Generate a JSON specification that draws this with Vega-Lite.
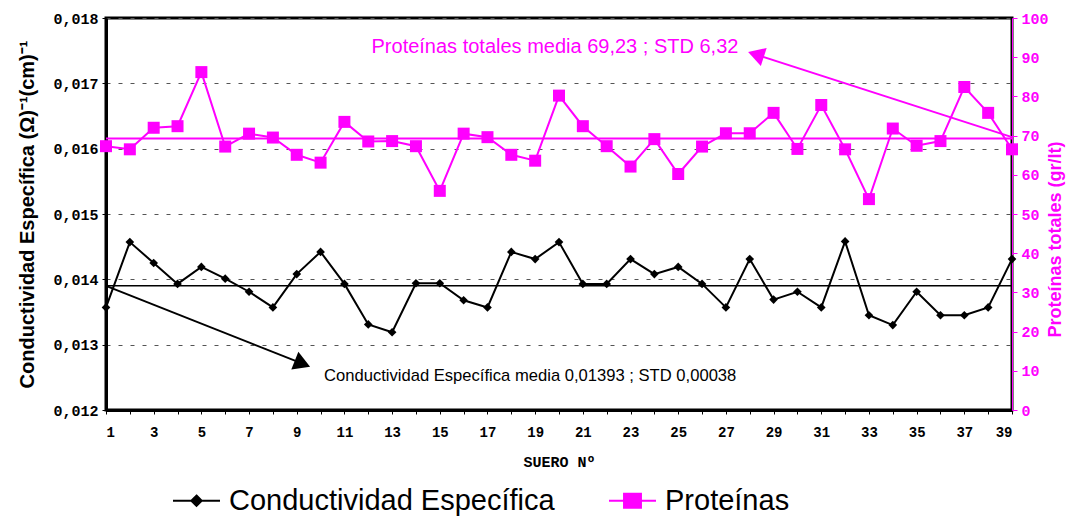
{
  "$schema": "https://vega.github.io/schema/vega-lite/v6.json",
  "width": 906,
  "height": 392,
  "autosize": {"type": "none"},
  "padding": {"left": 106, "top": 18, "right": 76, "bottom": 107},
  "background": "white",
  "config": {
    "font": "Liberation Sans",
    "view": {"stroke": "black", "strokeWidth": 3},
    "legend": {
      "orient": "none",
      "legendX": 66,
      "legendY": 458,
      "direction": "horizontal",
      "symbolSize": 2209,
      "symbolStrokeWidth": 2,
      "labelFontSize": 29,
      "labelFont": "Liberation Sans",
      "labelColor": "black",
      "labelOffset": 8,
      "columnPadding": 50,
      "labelLimit": 600
    }
  },
  "data": {
    "values": [
      {"n": 1, "c": 0.01357, "p": 67.3},
      {"n": 2, "c": 0.01457, "p": 66.5},
      {"n": 3, "c": 0.01425, "p": 72.0},
      {"n": 4, "c": 0.01393, "p": 72.4},
      {"n": 5, "c": 0.01419, "p": 86.2},
      {"n": 6, "c": 0.01401, "p": 67.2},
      {"n": 7, "c": 0.01381, "p": 70.5},
      {"n": 8, "c": 0.01357, "p": 69.5},
      {"n": 9, "c": 0.01408, "p": 65.1},
      {"n": 10, "c": 0.01442, "p": 63.1},
      {"n": 11, "c": 0.01393, "p": 73.5},
      {"n": 12, "c": 0.01331, "p": 68.5},
      {"n": 13, "c": 0.01319, "p": 68.6},
      {"n": 14, "c": 0.01394, "p": 67.3},
      {"n": 15, "c": 0.01394, "p": 55.9},
      {"n": 16, "c": 0.01368, "p": 70.5},
      {"n": 17, "c": 0.01357, "p": 69.6},
      {"n": 18, "c": 0.01442, "p": 65.1},
      {"n": 19, "c": 0.01431, "p": 63.6},
      {"n": 20, "c": 0.01457, "p": 80.2},
      {"n": 21, "c": 0.01393, "p": 72.4},
      {"n": 22, "c": 0.01393, "p": 67.3},
      {"n": 23, "c": 0.01431, "p": 62.1},
      {"n": 24, "c": 0.01408, "p": 69.1},
      {"n": 25, "c": 0.01419, "p": 60.2},
      {"n": 26, "c": 0.01393, "p": 67.2},
      {"n": 27, "c": 0.01357, "p": 70.6},
      {"n": 28, "c": 0.01431, "p": 70.6},
      {"n": 29, "c": 0.01369, "p": 75.8},
      {"n": 30, "c": 0.01381, "p": 66.6},
      {"n": 31, "c": 0.01357, "p": 77.8},
      {"n": 32, "c": 0.01458, "p": 66.5},
      {"n": 33, "c": 0.01345, "p": 53.8},
      {"n": 34, "c": 0.0133, "p": 71.8},
      {"n": 35, "c": 0.01381, "p": 67.4},
      {"n": 36, "c": 0.01345, "p": 68.6},
      {"n": 37, "c": 0.01345, "p": 82.4},
      {"n": 38, "c": 0.01357, "p": 75.8},
      {"n": 39, "c": 0.01431, "p": 66.5}
    ]
  },
  "encoding": {
    "x": {
      "field": "n",
      "type": "quantitative",
      "title": "SUERO Nº",
      "scale": {"domain": [1, 39], "nice": false, "zero": false},
      "axis": {
        "values": [1,2,3,4,5,6,7,8,9,10,11,12,13,14,15,16,17,18,19,20,21,22,23,24,25,26,27,28,29,30,31,32,33,34,35,36,37,38,39],
        "labelExpr": "datum.value % 2 == 1 ? datum.value : ''",
        "labelFont": "Liberation Mono",
        "labelFontWeight": "bold",
        "labelFontSize": 14,
        "labelColor": "black",
        "labelPadding": 11,
        "labelOverlap": false,
        "tickColor": "black",
        "tickSize": 4,
        "domainColor": "black",
        "domainWidth": 3,
        "grid": false,
        "titleFont": "Liberation Mono",
        "titleFontWeight": "bold",
        "titleFontSize": 15,
        "titleColor": "black",
        "titlePadding": 15
      }
    }
  },
  "layer": [
    {
      "encoding": {
        "y": {
          "field": "c",
          "type": "quantitative",
          "scale": {"domain": [0.012, 0.018], "nice": false, "zero": false},
          "axis": {
            "orient": "left",
            "values": [0.012, 0.013, 0.014, 0.015, 0.016, 0.017, 0.018],
            "labelExpr": "replace(format(datum.value, '.3f'), '.', ',')",
            "labelFont": "Liberation Mono",
            "labelFontWeight": "bold",
            "labelFontSize": 15,
            "labelColor": "black",
            "labelPadding": 4,
            "tickColor": "black",
            "tickSize": 4,
            "domainColor": "black",
            "domainWidth": 3,
            "grid": true,
            "gridDash": [4, 8],
            "gridColor": "#555555",
            "gridWidth": 1,
            "title": "Conductividad  Específica (Ω)⁻¹(cm)⁻¹",
            "titleFontSize": 20,
            "titleFontWeight": "bold",
            "titleColor": "black",
            "titlePadding": 15
          }
        }
      },
      "layer": [
        {
          "data": {"values": [{"n": 1, "n2": 39, "c": 0.0139}]},
          "mark": {"type": "rule", "color": "black", "strokeWidth": 1.5},
          "encoding": {"x2": {"field": "n2"}}
        },
        {
          "mark": {"type": "line", "color": "black", "strokeWidth": 2}
        },
        {
          "mark": {"type": "point", "shape": "diamond", "filled": true, "color": "black", "size": 75, "opacity": 1}
        },
        {
          "data": {"values": [{"n": 1, "c": 0.0139, "n2": 9.24, "c2": 0.012709}]},
          "mark": {"type": "rule", "color": "black", "strokeWidth": 2},
          "encoding": {"x2": {"field": "n2"}, "y2": {"field": "c2"}}
        },
        {
          "data": {"values": [{"n": 9.24, "c": 0.012709}]},
          "mark": {"type": "point", "shape": "triangle-up", "filled": true, "color": "black", "size": 360, "angle": 111.8, "opacity": 1}
        },
        {
          "data": {"values": [{"n": 18.79, "c": 0.01252, "t": "Conductividad  Específica media 0,01393 ; STD 0,00038"}]},
          "mark": {"type": "text", "color": "black", "fontSize": 16.6, "font": "Liberation Sans", "align": "center", "baseline": "middle"},
          "encoding": {"text": {"field": "t"}}
        }
      ]
    },
    {
      "encoding": {
        "y": {
          "field": "p",
          "type": "quantitative",
          "scale": {"domain": [0, 100], "nice": false, "zero": true},
          "axis": {
            "orient": "right",
            "values": [0, 10, 20, 30, 40, 50, 60, 70, 80, 90, 100],
            "labelFont": "Liberation Mono",
            "labelFontWeight": "bold",
            "labelFontSize": 15,
            "labelColor": "#FF00FF",
            "labelPadding": 4,
            "tickColor": "#FF00FF",
            "tickSize": 5,
            "domainColor": "#FF00FF",
            "domainWidth": 1,
            "grid": false,
            "title": "Proteínas totales (gr/lt)",
            "titleFontSize": 18,
            "titleFontWeight": "bold",
            "titleColor": "#FF00FF",
            "titleAngle": 270,
            "titlePadding": 16,
            "titleY": 221
          }
        }
      },
      "layer": [
        {
          "data": {"values": [{"n": 1, "n2": 39, "p": 69.23}]},
          "mark": {"type": "rule", "color": "#FF00FF", "strokeWidth": 2},
          "encoding": {"x2": {"field": "n2"}}
        },
        {
          "mark": {"type": "line", "color": "#FF00FF", "strokeWidth": 2}
        },
        {
          "mark": {"type": "point", "shape": "square", "filled": true, "color": "#FF00FF", "size": 144, "opacity": 1}
        },
        {
          "data": {"values": [{"n": 39, "p": 69.6, "n2": 28.26, "p2": 90.69}]},
          "mark": {"type": "rule", "color": "#FF00FF", "strokeWidth": 2},
          "encoding": {"x2": {"field": "n2"}, "y2": {"field": "p2"}}
        },
        {
          "data": {"values": [{"n": 28.26, "p": 90.69}]},
          "mark": {"type": "point", "shape": "triangle-up", "filled": true, "color": "#FF00FF", "size": 360, "angle": 287.8, "opacity": 1}
        },
        {
          "data": {"values": [{"n": 19.83, "p": 92.6, "t": "Proteínas totales media 69,23 ; STD 6,32"}]},
          "mark": {"type": "text", "color": "#FF00FF", "fontSize": 20, "font": "Liberation Sans", "align": "center", "baseline": "middle"},
          "encoding": {"text": {"field": "t"}}
        }
      ]
    },
    {
      "data": {"values": []},
      "mark": {"type": "point", "filled": true, "strokeWidth": 2, "opacity": 1},
      "encoding": {
        "fill": {
          "field": "s",
          "type": "nominal",
          "scale": {"domain": ["Conductividad Específica", "Proteínas"], "range": ["black", "#FF00FF"]},
          "legend": {"title": null}
        },
        "stroke": {
          "field": "s",
          "type": "nominal",
          "scale": {"domain": ["Conductividad Específica", "Proteínas"], "range": ["black", "#FF00FF"]},
          "legend": {"title": null}
        },
        "shape": {
          "field": "s",
          "type": "nominal",
          "scale": {"domain": ["Conductividad Específica", "Proteínas"], "range": ["M-1,0H1M0,-0.22L0.22,0L0,0.22L-0.22,0Z", "M-1,0H1M-0.36,-0.3H0.36V0.3H-0.36Z"]},
          "legend": {"title": null}
        }
      }
    }
  ],
  "resolve": {"scale": {"y": "independent"}}
}
